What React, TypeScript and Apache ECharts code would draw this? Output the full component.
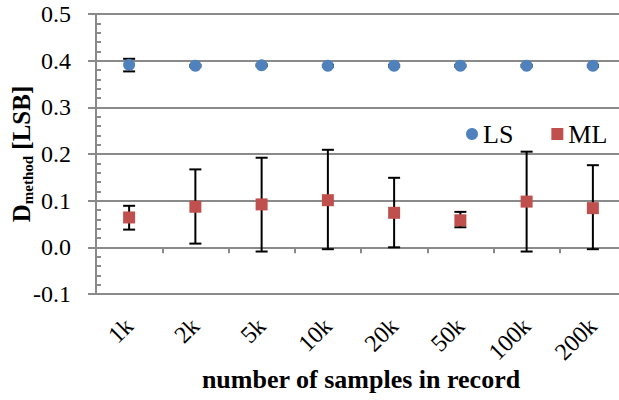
import React, { useEffect, useRef } from "react";
import * as echarts from "echarts";

const categories = ["1k", "2k", "5k", "10k", "20k", "50k", "100k", "200k"];
const lsValues = [0.391, 0.389, 0.39, 0.389, 0.389, 0.389, 0.389, 0.389];
const lsLow = [0.377, 0.387, 0.388, 0.387, 0.387, 0.387, 0.387, 0.387];
const lsHigh = [0.404, 0.391, 0.392, 0.391, 0.391, 0.391, 0.391, 0.391];
const mlValues = [0.064, 0.087, 0.092, 0.101, 0.074, 0.058, 0.098, 0.084];
const mlLow = [0.038, 0.008, -0.009, -0.004, 0.0, 0.043, -0.009, -0.004];
const mlHigh = [0.089, 0.167, 0.192, 0.209, 0.149, 0.076, 0.205, 0.176];
const yTicks = { min: -0.1, max: 0.5, interval: 0.1 };

const FONT = "Liberation Serif";
const GRID_COLOR = "#8a8a8a";

function errorSeries(name: string, low: number[], high: number[]) {
  return {
    type: "custom",
    name,
    z: 2,
    silent: true,
    renderItem: (params: any, api: any) => {
      const x = api.value(0);
      const pLo = api.coord([x, api.value(1)]);
      const pHi = api.coord([x, api.value(2)]);
      const half = 6;
      const style = { stroke: "#000", lineWidth: 2 };
      return {
        type: "group",
        children: [
          { type: "line", shape: { x1: pLo[0], y1: pLo[1], x2: pHi[0], y2: pHi[1] }, style },
          { type: "line", shape: { x1: pLo[0] - half, y1: pLo[1], x2: pLo[0] + half, y2: pLo[1] }, style },
          { type: "line", shape: { x1: pHi[0] - half, y1: pHi[1], x2: pHi[0] + half, y2: pHi[1] }, style },
        ],
      };
    },
    encode: { x: 0, y: [1, 2] },
    data: categories.map((_, i) => [i, low[i], high[i]]),
  };
}

export default function App() {
  const ref = useRef<HTMLDivElement>(null);
  useEffect(() => {
    if (!ref.current) return;
    const chart = echarts.init(ref.current, undefined, { renderer: "svg" });
    chart.setOption({
      animation: false,
      textStyle: { fontFamily: FONT },
      grid: {
        left: 96,
        right: -7,
        top: 14,
        bottom: 106,
        containLabel: false,
        outerBoundsMode: "none",
      },
      legend: {
        orient: "horizontal",
        left: 461,
        top: 116,
        width: 300,
        itemGap: 38,
        itemWidth: 12,
        itemHeight: 12,
        textStyle: { fontFamily: FONT, fontSize: 26, color: "#000" },
        data: [
          { name: "LS", icon: "circle" },
          { name: "ML", icon: "rect" },
        ],
      },
      xAxis: {
        type: "category",
        data: categories,
        boundaryGap: true,
        axisLine: { lineStyle: { color: GRID_COLOR, width: 2 } },
        axisTick: { show: true, length: 6, lineStyle: { color: GRID_COLOR, width: 2 } },
        axisLabel: {
          rotate: 45,
          margin: 28,
          fontFamily: FONT,
          fontSize: 24,
          color: "#000",
          interval: 0,
        },
        splitLine: { show: false },
        name: "number of samples in record",
        nameLocation: "middle",
        nameGap: 72,
        nameMoveOverlap: false,
        nameTextStyle: { fontFamily: FONT, fontSize: 26, fontWeight: "bold", color: "#000" },
      },
      yAxis: {
        type: "value",
        min: yTicks.min,
        max: yTicks.max,
        interval: yTicks.interval,
        axisLine: { show: true, lineStyle: { color: GRID_COLOR, width: 2 } },
        axisTick: { show: true, length: 8, lineStyle: { color: GRID_COLOR, width: 2 } },
        minorTick: { show: true, splitNumber: 5, length: -5, lineStyle: { color: GRID_COLOR, width: 2 } },
        splitLine: { show: true, lineStyle: { color: GRID_COLOR, width: 2 } },
        axisLabel: {
          margin: 25,
          fontFamily: FONT,
          fontSize: 24,
          color: "#000",
          formatter: (v: number) => v.toFixed(1),
        },
        name: "{a|D}{b|method}{a| [LSB]}",
        nameLocation: "middle",
        nameRotate: 90,
        nameGap: 61,
        nameMoveOverlap: false,
        nameTextStyle: {
          rich: {
            a: { fontFamily: FONT, fontSize: 25, fontWeight: "bold", color: "#000", lineHeight: 28 },
            b: {
              fontFamily: FONT,
              fontSize: 15,
              fontWeight: "bold",
              color: "#000",
              verticalAlign: "bottom",
              lineHeight: 28,
              padding: [10, 0, 0, 0],
            },
          },
        },
      },
      series: [
        errorSeries("LS err", lsLow, lsHigh),
        errorSeries("ML err", mlLow, mlHigh),
        {
          type: "scatter",
          name: "LS",
          z: 3,
          symbol: "circle",
          symbolSize: 12,
          itemStyle: { color: "#4F81BD", opacity: 1 },
          data: lsValues,
        },
        {
          type: "scatter",
          name: "ML",
          z: 3,
          symbol: "rect",
          symbolSize: 12,
          itemStyle: { color: "#C0504D", opacity: 1 },
          data: mlValues,
        },
      ],
    });
    return () => chart.dispose();
  }, []);
  return (
    <div
      ref={ref}
      style={{ position: "fixed", left: 0, top: 0, width: 619, height: 400, background: "#fff" }}
    />
  );
}
